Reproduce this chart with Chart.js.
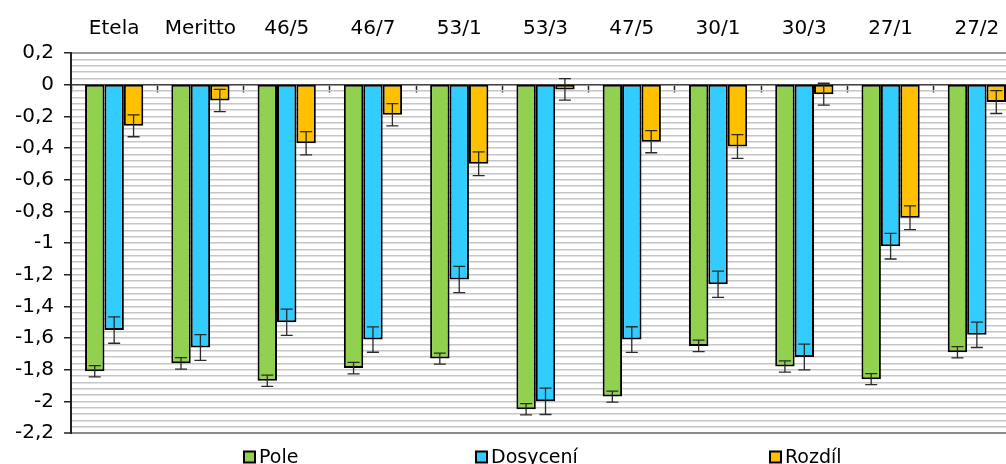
<!DOCTYPE html>
<html>
<head>
<meta charset="utf-8">
<script src="https://cdn.jsdelivr.net/npm/chart.js"></script>
<style>
  html, body { margin: 0; padding: 0; background: #fff; overflow: hidden; }
  #wrap { width: 1006px; height: 464px; overflow: hidden; }
</style>
</head>
<body>
<div id="wrap"><canvas id="chart" width="1030" height="464"></canvas></div>
<script>
const categories = ['Etela', 'Meritto', '46/5', '46/7', '53/1', '53/3', '47/5', '30/1', '30/3', '27/1', '27/2'];
const pole = [-1.81, -1.76, -1.87, -1.79, -1.73, -2.05, -1.97, -1.65, -1.78, -1.86, -1.69];
const poleErr = [0.036, 0.036, 0.035, 0.036, 0.035, 0.036, 0.035, 0.036, 0.036, 0.035, 0.036];
const dosyceni = [-1.55, -1.66, -1.50, -1.61, -1.23, -2.00, -1.61, -1.26, -1.72, -1.02, -1.58];
const dosyceniErr = [0.083, 0.081, 0.083, 0.08, 0.083, 0.083, 0.081, 0.083, 0.081, 0.081, 0.08];
const rozdil = [-0.26, -0.10, -0.37, -0.19, -0.50, -0.03, -0.36, -0.39, -0.06, -0.84, -0.11];
const rozdilErr = [0.069, 0.07, 0.073, 0.07, 0.075, 0.068, 0.07, 0.075, 0.069, 0.075, 0.072];

const FONT = '"DejaVu Sans", sans-serif';

// error bars drawn through the y scale
const errorBars = {
  id: 'errorBars',
  afterDatasetsDraw(chart) {
    const ctx = chart.ctx;
    const y = chart.scales.y;
    ctx.save();
    ctx.strokeStyle = '#2a2a2a';
    ctx.lineWidth = 1.3;
    chart.data.datasets.forEach((ds, di) => {
      const meta = chart.getDatasetMeta(di);
      meta.data.forEach((bar, i) => {
        const v = ds.data[i], e = ds.errors[i];
        const y1 = y.getPixelForValue(v + e);
        const y2 = y.getPixelForValue(v - e);
        ctx.beginPath();
        ctx.moveTo(bar.x, y1); ctx.lineTo(bar.x, y2);
        ctx.moveTo(bar.x - 6, y1); ctx.lineTo(bar.x + 6, y1);
        ctx.moveTo(bar.x - 6, y2); ctx.lineTo(bar.x + 6, y2);
        ctx.stroke();
      });
    });
    ctx.restore();
  }
};

// legend spread out like the original
const legendX = [244, 476, 770];
const spreadLegend = {
  id: 'spreadLegend',
  afterDraw(chart) {
    const ctx = chart.ctx;
    ctx.save();
    ctx.font = '19px ' + FONT;
    ctx.textBaseline = 'middle';
    chart.data.datasets.forEach((ds, i) => {
      const x = legendX[i], cy = 457;
      ctx.fillStyle = ds.backgroundColor;
      ctx.fillRect(x, cy - 5.5, 11, 11);
      ctx.strokeStyle = '#000';
      ctx.lineWidth = 2;
      ctx.strokeRect(x, cy - 5.5, 11, 11);
      ctx.fillStyle = '#000';
      ctx.fillText(ds.label, x + 15, cy + 1);
    });
    ctx.restore();
  }
};

const isMajor = v => Math.abs(v / 0.2 - Math.round(v / 0.2)) < 1e-6;

new Chart(document.getElementById('chart'), {
  type: 'bar',
  data: {
    labels: categories,
    datasets: [
      { label: 'Pole', data: pole, errors: poleErr, backgroundColor: '#92d050' },
      { label: 'Dosycení', data: dosyceni, errors: dosyceniErr, backgroundColor: '#33ccff' },
      { label: 'Rozdíl', data: rozdil, errors: rozdilErr, backgroundColor: '#ffc000' }
    ]
  },
  options: {
    responsive: false,
    animation: false,
    devicePixelRatio: 1,
    layout: { padding: { top: 5, left: 5, right: 10, bottom: 31 } },
    datasets: {
      bar: {
        borderColor: '#000',
        borderWidth: 2,
        borderSkipped: false,
        categoryPercentage: 0.675,
        barPercentage: 1.0
      }
    },
    plugins: {
      legend: { display: false },
      tooltip: { enabled: false }
    },
    scales: {
      x: {
        position: 'top',
        offset: true,
        grid: { drawOnChartArea: false, drawTicks: false },
        border: { display: true, color: '#9a9a9a', width: 2 },
        ticks: { color: '#000', padding: 12, font: { family: FONT, size: 20 }, maxRotation: 0 }
      },
      x2: {
        type: 'category',
        labels: categories,
        position: { y: 0 },
        offset: true,
        grid: { offset: true, drawOnChartArea: false, tickLength: 7, color: '#222', tickWidth: 1.5 },
        border: { display: true, color: '#444', width: 1.5 },
        ticks: { display: false }
      },
      y: {
        min: -2.2,
        max: 0.2,
        border: { color: '#222', width: 2 },
        grid: {
          color: c => (Math.abs(c.tick.value + 2.2) < 1e-6 ? '#8a8a8a' : '#c6c6c6'),
          lineWidth: c => (Math.abs(c.tick.value + 2.2) < 1e-6 ? 2 : 1.5),
          tickColor: c => (isMajor(c.tick.value) ? '#222' : 'rgba(0,0,0,0)'),
          tickLength: 7,
          tickWidth: 1.5
        },
        ticks: {
          stepSize: 0.04,
          autoSkip: false,
          padding: 10,
          color: '#000',
          font: { family: FONT, size: 20 },
          callback: v => {
            if (!isMajor(v)) return '';
            const r = Math.round(v * 10) / 10;
            return (r === 0 ? '0' : String(r)).replace('.', ',');
          }
        }
      }
    }
  },
  plugins: [errorBars, spreadLegend]
});
</script>
</body>
</html>
